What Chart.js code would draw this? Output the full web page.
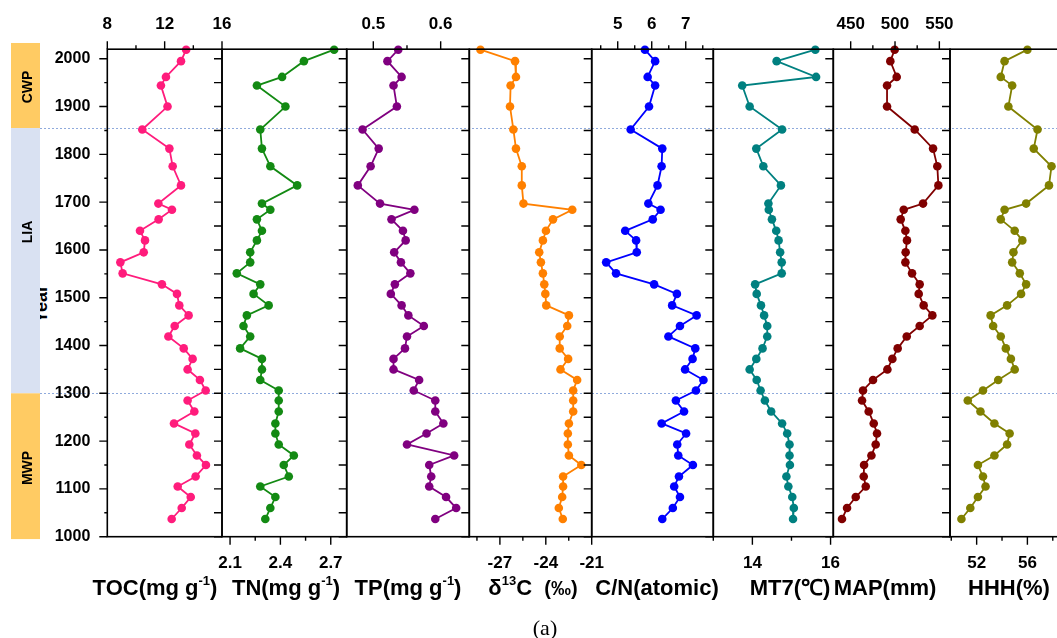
<!DOCTYPE html>
<html lang="en">
<head>
<meta charset="utf-8">
<title>Sediment proxy records, 1000–2020</title>
<script src="https://cdn.jsdelivr.net/npm/chart.js@4.4.1/dist/chart.umd.min.js"></script>
<style>
  html, body { margin: 0; padding: 0; background: #fff; }
  #stage { position: relative; width: 1057px; height: 638px; overflow: hidden; background: #fff; }
  #stage canvas { position: absolute; top: 0; }
  .txt { position: absolute; font-family: "Liberation Sans", Arial, sans-serif; font-weight: bold; color: #000; white-space: nowrap; line-height: 1; }
  .rot { transform: translate(-50%, -50%) rotate(-90deg); }
  .title { font-size: 22px; line-height: 25px; top: 575px; transform: translateX(-50%); z-index: 5; }
  .title sup { font-size: 13px; vertical-align: 0; position: relative; top: -10px; }
  .caption { position: absolute; font-family: "Liberation Serif", "Times New Roman", serif; font-size: 22px; line-height: 1; color: #000; transform: translate(-50%, -50%); z-index: 5; }
</style>
</head>
<body>
<div id="stage">
  <div class="txt rot" style="left:41px; top:304px; font-size:18px; z-index:0;">Year</div>
  <div class="txt rot" style="left:27px; top:87px;  font-size:14px; z-index:5;">CWP</div>
  <div class="txt rot" style="left:27px; top:232px; font-size:14px; z-index:5;">LIA</div>
  <div class="txt rot" style="left:27px; top:468px; font-size:14px; z-index:5;">MWP</div>

  <div class="txt title" style="left:155px;">TOC(mg g<sup>-1</sup>)</div>
  <div class="txt title" style="left:286px;">TN(mg g<sup>-1</sup>)</div>
  <div class="txt title" style="left:408px;">TP(mg g<sup>-1</sup>)</div>
  <div class="txt title" style="left:533px;">δ<sup>13</sup>C&nbsp;&nbsp;<span style="font-size:20px">(‰)</span></div>
  <div class="txt title" style="left:657px;">C/N(atomic)</div>
  <div class="txt title" style="left:790px;">MT7(℃)</div>
  <div class="txt title" style="left:885px;">MAP(mm)</div>
  <div class="txt title" style="left:1009px;">HHH(%)</div>

  <div class="caption" style="left:545px; top:628px;">(a)</div>
</div>

<script>
// ---- sample ages (AD) shared by every proxy ----
const years = [2019, 1995, 1962, 1944, 1900, 1852, 1812, 1775, 1735, 1697,
               1684, 1664, 1640, 1620, 1595, 1574, 1551, 1528, 1508, 1484,
               1463, 1441, 1419, 1394, 1372, 1350, 1328, 1306, 1285, 1262,
               1237, 1216, 1193, 1170, 1150, 1126, 1105, 1083, 1060, 1037];

// ---- proxy series (same order as years) ----
const toc = [13.50, 13.14, 12.09, 11.74, 12.20, 10.44, 12.33, 12.56, 13.14, 11.56,
             12.51, 11.58, 10.28, 10.63, 10.54, 8.91, 9.07, 11.81, 12.86, 13.02,
             13.67, 12.70, 12.26, 13.33, 13.95, 13.60, 14.46, 14.86, 13.60, 14.07,
             12.65, 14.14, 13.72, 14.25, 14.88, 14.16, 12.91, 13.82, 13.19, 12.49];

const tn = [2.72, 2.54, 2.41, 2.26, 2.43, 2.28, 2.29, 2.34, 2.50, 2.29,
            2.34, 2.26, 2.29, 2.26, 2.22, 2.22, 2.14, 2.28, 2.24, 2.33,
            2.20, 2.18, 2.22, 2.16, 2.29, 2.29, 2.28, 2.39, 2.39, 2.39,
            2.37, 2.37, 2.39, 2.48, 2.42, 2.45, 2.28, 2.37, 2.34, 2.31];

const tp = [0.537, 0.521, 0.542, 0.530, 0.535, 0.484, 0.508, 0.496, 0.477, 0.510,
            0.561, 0.527, 0.544, 0.548, 0.531, 0.541, 0.555, 0.532, 0.526, 0.542,
            0.552, 0.575, 0.550, 0.547, 0.530, 0.530, 0.568, 0.560, 0.592, 0.592,
            0.604, 0.579, 0.550, 0.620, 0.583, 0.586, 0.583, 0.608, 0.623, 0.592];

const d13c = [-28.27, -26.01, -25.95, -26.30, -26.34, -26.12, -25.95, -25.57, -25.57, -25.46,
              -22.27, -23.53, -23.99, -24.19, -24.43, -24.32, -24.19, -24.10, -24.03, -23.97,
              -22.49, -22.60, -23.09, -23.09, -22.54, -23.04, -21.95, -22.21, -22.21, -22.21,
              -22.49, -22.56, -22.56, -22.49, -21.68, -22.87, -22.87, -22.93, -23.15, -22.89];

const cn = [5.80, 6.10, 5.88, 6.10, 5.92, 5.38, 6.31, 6.29, 6.17, 5.90,
            6.26, 6.03, 5.22, 5.54, 5.56, 4.66, 4.95, 6.07, 6.74, 6.60,
            7.32, 6.83, 6.49, 7.28, 7.20, 6.98, 7.52, 7.30, 6.71, 6.95,
            6.29, 7.01, 6.75, 6.78, 7.21, 6.80, 6.66, 6.83, 6.62, 6.31];

const mt7 = [15.61, 14.62, 15.63, 13.74, 13.93, 14.76, 14.10, 14.28, 14.73, 14.41,
             14.42, 14.50, 14.61, 14.67, 14.71, 14.75, 14.75, 14.07, 14.11, 14.22,
             14.30, 14.38, 14.38, 14.26, 14.10, 13.93, 14.11, 14.21, 14.32, 14.48,
             14.76, 14.89, 14.95, 14.95, 14.96, 14.87, 14.92, 15.02, 15.06, 15.04];

const mapMm = [499.6, 494.7, 501.9, 491.0, 491.0, 522.2, 542.9, 547.7, 548.9, 531.6,
               509.8, 506.4, 511.7, 513.5, 512.0, 511.7, 519.2, 527.8, 526.7, 532.3,
               542.1, 527.8, 513.2, 503.0, 497.0, 491.4, 475.2, 463.9, 462.8, 470.3,
               476.0, 479.7, 478.2, 473.4, 465.1, 464.7, 467.0, 455.7, 445.9, 440.2];

const hhh = [56.0, 54.2, 53.9, 54.8, 54.5, 56.8, 56.5, 57.9, 57.7, 55.9,
             54.2, 53.9, 55.0, 55.6, 54.9, 54.8, 55.4, 55.9, 55.5, 54.4,
             53.1, 53.3, 53.9, 54.3, 54.7, 55.0, 53.7, 52.5, 51.3, 52.3,
             53.4, 54.6, 54.4, 53.4, 52.1, 52.5, 52.7, 52.1, 51.5, 50.8];

// ---- tick positions and labelled ticks ----
const yearTicks = [1000, 1050, 1100, 1150, 1200, 1250, 1300, 1350, 1400, 1450, 1500,
                   1550, 1600, 1650, 1700, 1750, 1800, 1850, 1900, 1950, 2000];
const yearTickLabels = [1000, 1100, 1200, 1300, 1400, 1500, 1600, 1700, 1800, 1900, 2000];

const tocTicks = [8, 10, 12, 14, 16];            const tocTickLabels = [8, 12, 16];
const tnTicks = [2.1, 2.25, 2.4, 2.55, 2.7];     const tnTickLabels = [2.1, 2.4, 2.7];
const tpTicks = [0.5, 0.55, 0.6];                const tpTickLabels = [0.5, 0.6];
const d13cTicks = [-28.5, -27, -25.5, -24, -22.5, -21]; const d13cTickLabels = [-27, -24, -21];
const cnTicks = [4.5, 5, 5.5, 6, 6.5, 7, 7.5];   const cnTickLabels = [5, 6, 7];
const mt7Ticks = [13, 14, 15, 16];               const mt7TickLabels = [14, 16];
const mapTicks = [450, 475, 500, 525, 550];      const mapTickLabels = [450, 500, 550];
const hhhTicks = [50, 52, 54, 56, 58];           const hhhTickLabels = [52, 56];

// ---- climate periods and their boundaries ----
const periodNames = ['CWP', 'LIA', 'MWP'];
const periodFrom = [1855, 1300, 995];
const periodTo = [2033, 1855, 1300];
const boundaryYears = [1855, 1300];

// ---- layout ----
const PANEL_EDGES = [107.3, 222, 346.7, 469.3, 591.7, 713.3, 833.3, 950, 1068];
const PLOT_TOP = 49.2, PLOT_BOTTOM = 536.7, PAGE_H = 638;
const XAXIS_H = 40, MARGIN = 60;
const YEAR_MIN = 1000, YEAR_MAX = 2020;
const FONT = '"Liberation Sans", Arial, sans-serif';
const periodFill = { CWP: '#FFCB63', LIA: '#D9E1F2', MWP: '#FFCB63' };

const panels = [
  { values: toc,   color: '#FF1C7C', min: 8,      max: 16,     ticks: tocTicks,  labels: tocTickLabels,  side: 'top' },
  { values: tn,    color: '#138A13', min: 2.052,  max: 2.795,  ticks: tnTicks,   labels: tnTickLabels,   side: 'bottom' },
  { values: tp,    color: '#800080', min: 0.4605, max: 0.6425, ticks: tpTicks,   labels: tpTickLabels,   side: 'top' },
  { values: d13c,  color: '#FF8000', min: -29,    max: -21,    ticks: d13cTicks, labels: d13cTickLabels, side: 'bottom' },
  { values: cn,    color: '#0000FF', min: 4.235,  max: 7.81,   ticks: cnTicks,   labels: cnTickLabels,   side: 'top' },
  { values: mt7,   color: '#008080', min: 13,     max: 16.07,  ticks: mt7Ticks,  labels: mt7TickLabels,  side: 'bottom' },
  { values: mapMm, color: '#800000', min: 430.4,  max: 562,    ticks: mapTicks,  labels: mapTickLabels,  side: 'top' },
  { values: hhh,   color: '#808000', min: 49.9,   max: 59.2,   ticks: hhhTicks,  labels: hhhTickLabels,  side: 'bottom' }
];

const stage = document.getElementById('stage');
const isIn = (v, list) => list.some(l => Math.abs(l - v) < 1e-9);

function addCanvas(left, width, z) {
  const c = document.createElement('canvas');
  c.width = width; c.height = PAGE_H;
  c.style.left = left + 'px';
  c.style.width = width + 'px';
  c.style.height = PAGE_H + 'px';
  c.style.zIndex = z;
  stage.appendChild(c);
  return c;
}

// Background: period bands beside the first panel and dotted boundary lines.
const bgCanvas = addCanvas(0, 1057, 1);
new Chart(bgCanvas, {
  type: 'scatter',
  data: { datasets: [] },
  options: {
    responsive: false, animation: false, devicePixelRatio: 1, events: [],
    layout: { autoPadding: false, padding: { left: 0, right: 0, top: PLOT_TOP, bottom: PAGE_H - PLOT_BOTTOM } },
    plugins: { legend: { display: false }, tooltip: { enabled: false } },
    scales: {
      x: { type: 'linear', display: false, min: 0, max: 1 },
      y: { type: 'linear', display: false, min: YEAR_MIN, max: YEAR_MAX }
    }
  },
  plugins: [{
    id: 'periods',
    afterDraw(chart) {
      const { ctx } = chart, y = chart.scales.y;
      ctx.save();
      periodNames.forEach((name, i) => {
        const yTop = y.getPixelForValue(periodTo[i]);
        const yBot = y.getPixelForValue(periodFrom[i]);
        ctx.fillStyle = periodFill[name];
        ctx.fillRect(11, yTop, 29, yBot - yTop);
      });
      ctx.strokeStyle = '#8FAADC';
      ctx.lineWidth = 1;
      ctx.setLineDash([2, 2]);
      boundaryYears.forEach(yr => {
        const py = Math.round(y.getPixelForValue(yr)) + 0.5;
        ctx.beginPath(); ctx.moveTo(40, py); ctx.lineTo(1057, py); ctx.stroke();
      });
      ctx.restore();
    }
  }]
});

// Frame and tick marks for one panel, placed with the panel's own scales.
function framePlugin(p, first) {
  return {
    id: 'frame',
    afterDraw(chart) {
      const { ctx, chartArea: a, scales } = chart;
      ctx.save();
      ctx.strokeStyle = '#000';
      ctx.lineWidth = 1.6;
      ctx.strokeRect(a.left, a.top, a.right - a.left, a.bottom - a.top);
      ctx.lineWidth = 1.4;
      ctx.beginPath();
      yearTicks.forEach(v => {
        const py = scales.y.getPixelForValue(v);
        const len = (!first || isIn(v, yearTickLabels)) ? 8 : 3;
        ctx.moveTo(a.left - len, py); ctx.lineTo(a.left, py);
      });
      const top = p.side === 'top';
      p.ticks.forEach(v => {
        const px = scales.x.getPixelForValue(v);
        const len = isIn(v, p.labels) ? 8 : 4;
        const y0 = top ? a.top : a.bottom;
        ctx.moveTo(px, y0); ctx.lineTo(px, top ? y0 - len : y0 + len);
      });
      ctx.stroke();
      ctx.restore();
    }
  };
}

panels.forEach((p, i) => {
  const first = i === 0;
  const L = PANEL_EDGES[i], R = PANEL_EDGES[i + 1];
  const cl = Math.floor(L) - MARGIN;
  const cw = Math.ceil(R) + MARGIN - cl;
  const yW = first ? 60 : 10;
  const top = p.side === 'top';
  const canvas = addCanvas(cl, cw, 2);

  new Chart(canvas, {
    type: 'line',
    data: {
      datasets: [{
        data: years.map((yr, k) => ({ x: p.values[k], y: yr })),
        borderColor: p.color,
        backgroundColor: p.color,
        borderWidth: 1.8,
        pointRadius: 4.3,
        pointBorderWidth: 0,
        pointHoverRadius: 4.3,
        tension: 0,
        clip: false
      }]
    },
    options: {
      responsive: false, animation: false, devicePixelRatio: 1, events: [],
      layout: {
        autoPadding: false,
        padding: {
          left: (L - cl) - yW,
          right: cw - (R - cl),
          top: top ? PLOT_TOP - XAXIS_H : PLOT_TOP,
          bottom: PAGE_H - PLOT_BOTTOM - (top ? 0 : XAXIS_H)
        }
      },
      plugins: { legend: { display: false }, tooltip: { enabled: false } },
      scales: {
        x: {
          type: 'linear', position: p.side, min: p.min, max: p.max,
          grid: { display: false, drawTicks: false }, border: { display: false },
          afterBuildTicks: s => { s.ticks = p.ticks.map(v => ({ value: v })); },
          afterFit: s => { s.height = XAXIS_H; s.paddingLeft = 0; s.paddingRight = 0; s.paddingTop = 0; s.paddingBottom = 0; },
          ticks: {
            autoSkip: false, maxRotation: 0, minRotation: 0,
            padding: top ? 15 : 16,
            color: '#000',
            font: { family: FONT, size: 17, weight: 'bold' },
            callback: v => { const l = p.labels.find(t => Math.abs(t - v) < 1e-9); return l === undefined ? '' : String(l); }
          }
        },
        y: {
          type: 'linear', position: 'left', min: YEAR_MIN, max: YEAR_MAX,
          grid: { display: false, drawTicks: false }, border: { display: false },
          afterBuildTicks: s => { s.ticks = yearTicks.map(v => ({ value: v })); },
          afterFit: s => { s.width = yW; s.paddingTop = 0; s.paddingBottom = 0; s.paddingLeft = 0; s.paddingRight = 0; },
          ticks: {
            autoSkip: false, padding: 17, color: '#000',
            font: { family: FONT, size: 16, weight: 'bold' },
            callback: v => (first && isIn(v, yearTickLabels)) ? String(v) : ''
          }
        }
      }
    },
    plugins: [framePlugin(p, first)]
  });
});
</script>
</body>
</html>
